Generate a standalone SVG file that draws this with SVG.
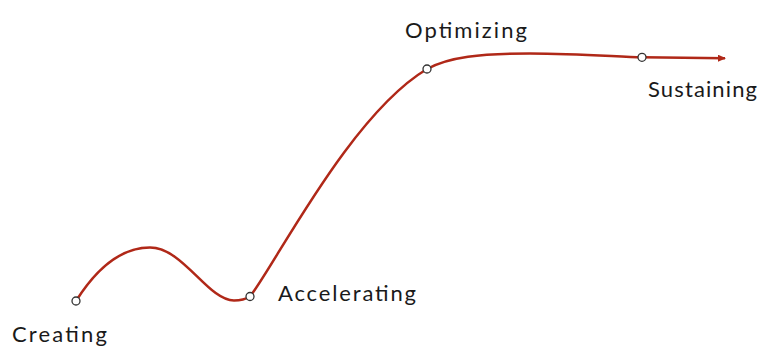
<svg xmlns="http://www.w3.org/2000/svg" width="762" height="350" viewBox="0 0 762 350">
<style>
.lbl{font-family:Lato,"Open Sans","Liberation Sans",sans-serif;font-size:22px;fill:#1a1a1a}
.curve{fill:none;stroke:#b02818;stroke-width:2.5}
.dot{fill:#fff;stroke:#333;stroke-width:1.3}
</style>
<defs>
<marker id="ah" markerWidth="8" markerHeight="7" refX="7" refY="3.5" orient="auto" markerUnits="userSpaceOnUse">
<path d="M0,0 L8,3.5 L0,7 Z" fill="#b02818"/>
</marker>
</defs>
<rect width="762" height="350" fill="#fff"/>
<g id="connectors">
<path class="curve" marker-end="url(#ah)" d="M76,301 C100,263 125,247.5 150,247.5 C183,247.5 208,300.5 234,300.5 C241,300.5 246,299 250,296.5 C275,265 350,115 427,69 C449,57 480,53.5 530,53.5 C580,53.5 620,57 642,57.3 L725,58.3"/>
</g>
<g id="creating"><circle class="dot" cx="76" cy="301" r="4"/><text class="lbl" x="12" y="342" textLength="95" lengthAdjust="spacing">Creating</text></g>
<g id="accelerating"><circle class="dot" cx="250" cy="296.5" r="4"/><text class="lbl" x="278" y="301" textLength="138" lengthAdjust="spacing">Accelerating</text></g>
<g id="optimizing"><circle class="dot" cx="427" cy="69" r="4"/><text class="lbl" x="405" y="38" textLength="122" lengthAdjust="spacing">Optimizing</text></g>
<g id="sustaining"><circle class="dot" cx="642" cy="57.3" r="4"/><text class="lbl" x="648" y="97" textLength="109" lengthAdjust="spacing">Sustaining</text></g>
</svg>
